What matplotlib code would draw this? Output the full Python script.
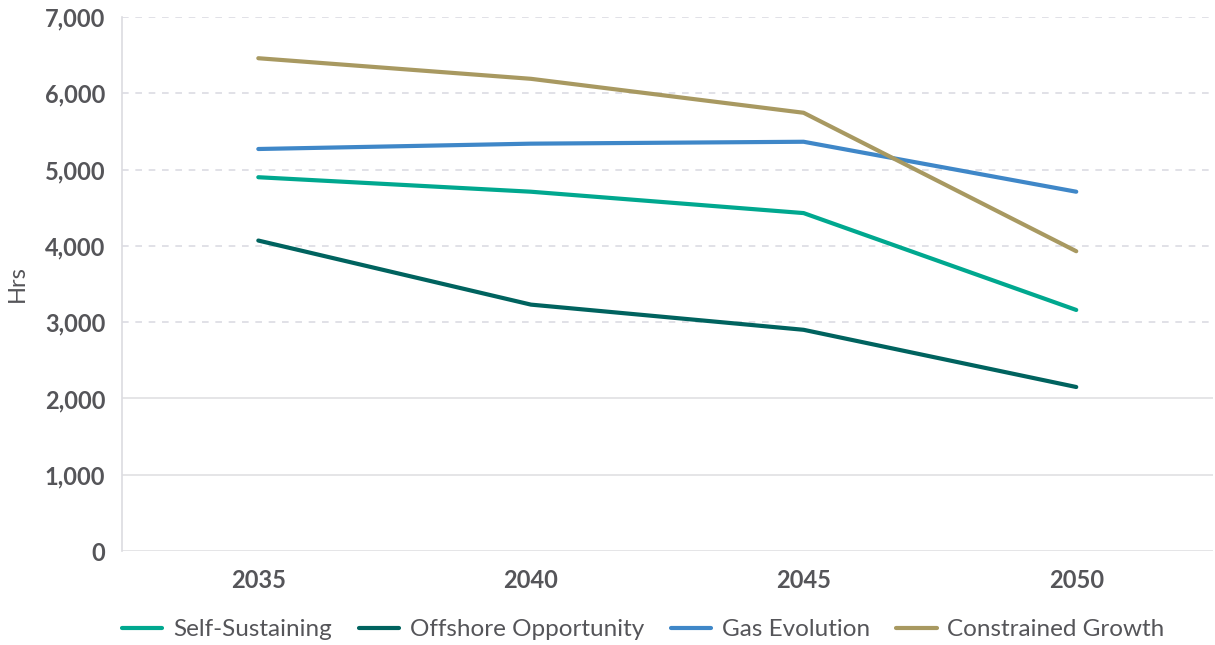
import matplotlib.pyplot as plt
from matplotlib.ticker import FuncFormatter

years = ['2035', '2040', '2045', '2050']
self_sustaining = [4900, 4710, 4430, 3160]
offshore_opportunity = [4070, 3230, 2900, 2150]
gas_evolution = [5270, 5340, 5365, 4710]
constrained_growth = [6460, 6190, 5745, 3930]

series = [
    ('Self-Sustaining', self_sustaining, '#00A88F'),
    ('Offshore Opportunity', offshore_opportunity, '#00635F'),
    ('Gas Evolution', gas_evolution, '#3F87C8'),
    ('Constrained Growth', constrained_growth, '#A89961'),
]

plt.rcParams['font.family'] = ['Lato', 'DejaVu Sans']
text_col = '#555559'

fig = plt.figure(figsize=(12.15, 6.45), dpi=100)
ax = fig.add_axes([0.1004, 0.1457, 0.8976, 0.8279])

x = list(range(len(years)))
for name, vals, col in series:
    ax.plot(x, vals, color=col, lw=3, label=name, solid_capstyle='round', zorder=3)

ax.set_xlim(-0.5, 3.5)
ax.set_ylim(0, 7000)
ax.set_xticks(x)
ax.set_xticklabels(years)
ax.set_yticks(range(0, 7001, 1000))
ax.yaxis.set_major_formatter(FuncFormatter(lambda v, p: f'{int(v):,}'))

for v in range(0, 7001, 1000):
    if v <= 2000:
        ax.axhline(v, color='#E0E0E3', lw=1.2, zorder=1)
    else:
        ax.axhline(v, color='#DCDCE3', lw=1.2, ls=(0, (4, 4)), zorder=1)

for s in ['top', 'right', 'bottom']:
    ax.spines[s].set_visible(False)
ax.spines['left'].set_color('#DCDCE0')
ax.spines['left'].set_linewidth(1.2)

ax.tick_params(axis='both', length=0, labelsize=17, colors=text_col, pad=12)
for lab in ax.get_xticklabels() + ax.get_yticklabels():
    lab.set_fontweight('bold')
ax.tick_params(axis='x', pad=13)

ax.set_ylabel('Hrs', fontsize=17, color=text_col, labelpad=12)

fig.legend(loc='center left', bbox_to_anchor=(0.1004, 0.024), ncol=4, frameon=False,
           fontsize=17.5, labelcolor=text_col, handlelength=1.65, columnspacing=1.1,
           handletextpad=0.45, borderaxespad=0, borderpad=0)

fig.savefig('out.png', dpi=100)
